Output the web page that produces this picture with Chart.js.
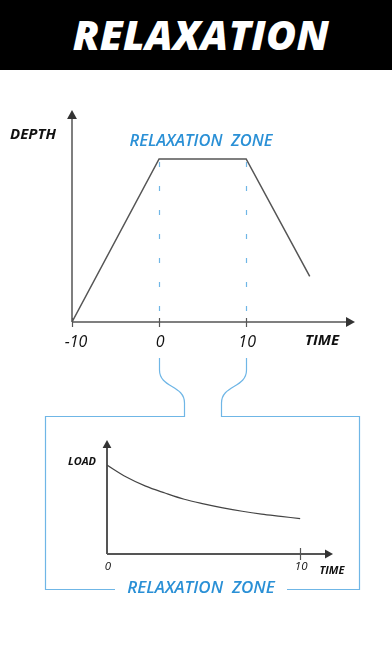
<!DOCTYPE html>
<html>
<head>
  <title>Relaxation</title>
  <meta charset="UTF-8">
  <script src="https://cdn.jsdelivr.net/npm/chart.js"></script>
  <style>
    body {
      margin: 0;
      width: 392px;
      height: 652px;
      background-color: #fff;
      position: relative;
      overflow: hidden;
      font-family: "Open Sans", sans-serif;
    }
    #judul {
      position: absolute;
      left: 0; top: 0;
      width: 392px; height: 70px;
      background-color: #000;
      color: #fff;
      font-weight: 800;
      font-style: italic;
      font-size: 41px;
      line-height: 68px;
      text-align: center;
      text-indent: 10px;
      letter-spacing: 0.3px;
    }
    #grafikAtas { position: absolute; left: 0; top: 80px; }
    #grafikBawah { position: absolute; left: 0; top: 400px; }
  </style>
</head>
<body>

  <div id="judul">RELAXATION</div>
  <canvas id="grafikAtas" width="392" height="340"></canvas>
  <canvas id="grafikBawah" width="392" height="230"></canvas>

  <script>
    // data grafik atas (kedalaman vs waktu)
    const depthTime = [-10, 0, 10, 17.3];
    const depthValues = [0, 10, 10, 2.8];
    const depthTicks = [-10, 0, 10];
    const zoneBounds = [0, 10];

    // data grafik bawah (beban selama zona relaksasi)
    const loadTime = [0, 1, 2, 3, 4, 5, 6, 7, 8, 9, 10];
    const loadValues = [7.8, 6.75, 5.95, 5.35, 4.8, 4.4, 4.05, 3.75, 3.5, 3.3, 3.1];
    const loadTicks = [0, 10];

    const abu = '#555';
    const biru = '#2a90d6';
    const biruMuda = '#6fb6e6';
    const fontLabel = '"Open Sans", sans-serif';

    function panah(ctx, x, y, arah, ukuran) {
      ctx.beginPath();
      if (arah === 'atas') {
        ctx.moveTo(x, y);
        ctx.lineTo(x - ukuran * 0.55, y + ukuran);
        ctx.lineTo(x + ukuran * 0.55, y + ukuran);
      } else {
        ctx.moveTo(x, y);
        ctx.lineTo(x - ukuran, y - ukuran * 0.55);
        ctx.lineTo(x - ukuran, y + ukuran * 0.55);
      }
      ctx.closePath();
      ctx.fill();
    }

    // sumbu, label dan zona untuk grafik atas
    const sumbuAtas = {
      id: 'sumbuAtas',
      beforeDatasetsDraw(chart) {
        const ctx = chart.ctx;
        const a = chart.chartArea;
        const sx = chart.scales.x, sy = chart.scales.y;
        ctx.save();

        // garis putus-putus zona
        ctx.strokeStyle = biruMuda;
        ctx.lineWidth = 1.2;
        ctx.setLineDash([5, 19]);
        zoneBounds.forEach(v => {
          const x = Math.round(sx.getPixelForValue(v)) + 0.5;
          ctx.beginPath();
          ctx.moveTo(x, sy.getPixelForValue(10) + 3);
          ctx.lineTo(x, a.bottom);
          ctx.stroke();
        });
        ctx.setLineDash([]);

        // kurung kurawal ke kotak bawah
        ctx.lineWidth = 1.2;
        const x0 = Math.round(sx.getPixelForValue(zoneBounds[0])) + 0.5;
        const x1 = Math.round(sx.getPixelForValue(zoneBounds[1])) + 0.5;
        [[x0, 25], [x1, -25]].forEach(([x, d]) => {
          ctx.beginPath();
          ctx.moveTo(x, a.bottom + 36);
          ctx.lineTo(x, a.bottom + 48);
          ctx.bezierCurveTo(x, a.bottom + 66, x + d, a.bottom + 63, x + d, a.bottom + 81);
          ctx.lineTo(x + d, a.bottom + 95);
          ctx.stroke();
        });

        // sumbu
        ctx.strokeStyle = abu;
        ctx.fillStyle = '#333';
        ctx.lineWidth = 1.5;
        ctx.beginPath();
        ctx.moveTo(a.left, a.bottom);
        ctx.lineTo(a.left, a.top + 6);
        ctx.moveTo(a.left, a.bottom);
        ctx.lineTo(a.right - 6, a.bottom);
        ctx.stroke();
        panah(ctx, a.left, a.top, 'atas', 9);
        panah(ctx, a.right, a.bottom, 'kanan', 9);

        // tick
        ctx.lineWidth = 1.2;
        depthTicks.forEach(v => {
          const x = Math.round(sx.getPixelForValue(v)) + 0.5;
          ctx.beginPath();
          ctx.moveTo(x, a.bottom - 4);
          ctx.lineTo(x, a.bottom + 5);
          ctx.stroke();
        });

        // label tick
        ctx.fillStyle = '#111';
        ctx.textAlign = 'center';
        ctx.textBaseline = 'middle';
        ctx.font = 'italic 16px ' + fontLabel;
        depthTicks.forEach(v => {
          ctx.fillText(String(v), sx.getPixelForValue(v) + (v < 0 ? 4 : 1), a.bottom + 20);
        });

        ctx.font = 'italic bold 15px ' + fontLabel;
        ctx.fillText('TIME', a.right - 33, a.bottom + 19);
        ctx.fillText('DEPTH', 33, 55);

        ctx.fillStyle = biru;
        ctx.font = 'italic 600 16.5px ' + fontLabel;
        ctx.fillText('RELAXATION  ZONE', (x0 + x1) / 2 - 2, 61);
        ctx.restore();
      }
    };

    // kotak dan sumbu untuk grafik bawah
    const sumbuBawah = {
      id: 'sumbuBawah',
      beforeDatasetsDraw(chart) {
        const ctx = chart.ctx;
        const a = chart.chartArea;
        const sx = chart.scales.x;
        ctx.save();

        // kotak
        ctx.strokeStyle = biruMuda;
        ctx.lineWidth = 1.2;
        const kiri = 45.5, kanan = 359.5, atas = 16.5, bawah = 189.5;
        ctx.beginPath();
        ctx.moveTo(184, atas);
        ctx.lineTo(kiri, atas);
        ctx.lineTo(kiri, bawah);
        ctx.lineTo(115, bawah);
        ctx.moveTo(287, bawah);
        ctx.lineTo(kanan, bawah);
        ctx.lineTo(kanan, atas);
        ctx.lineTo(221, atas);
        ctx.stroke();

        ctx.fillStyle = biru;
        ctx.textAlign = 'center';
        ctx.textBaseline = 'middle';
        ctx.font = 'italic 600 17px ' + fontLabel;
        ctx.fillText('RELAXATION  ZONE', 201, bawah - 1);

        // sumbu
        ctx.strokeStyle = abu;
        ctx.fillStyle = '#333';
        ctx.lineWidth = 2;
        ctx.beginPath();
        ctx.moveTo(a.left, a.bottom);
        ctx.lineTo(a.left, a.top + 6);
        ctx.moveTo(a.left, a.bottom);
        ctx.lineTo(a.right - 6, a.bottom);
        ctx.stroke();
        panah(ctx, a.left, a.top, 'atas', 8);
        panah(ctx, a.right, a.bottom, 'kanan', 8);

        ctx.lineWidth = 1.2;
        const xt = Math.round(sx.getPixelForValue(loadTicks[1])) + 0.5;
        ctx.beginPath();
        ctx.moveTo(xt, a.bottom - 6);
        ctx.lineTo(xt, a.bottom + 6);
        ctx.stroke();

        ctx.fillStyle = '#111';
        ctx.font = 'italic 11.5px ' + fontLabel;
        loadTicks.forEach(v => {
          ctx.fillText(String(v), sx.getPixelForValue(v) + 1, a.bottom + 13);
        });
        ctx.font = 'italic bold 11px ' + fontLabel;
        ctx.fillText('TIME', 332, a.bottom + 17);
        ctx.fillText('LOAD', 82, 62);
        ctx.restore();
      }
    };

    new Chart(document.getElementById('grafikAtas'), {
      type: 'line',
      data: {
        datasets: [{
          data: depthTime.map((t, i) => ({ x: t, y: depthValues[i] })),
          borderColor: abu,
          borderWidth: 1.5,
          pointRadius: 0,
          tension: 0
        }]
      },
      options: {
        responsive: false,
        animation: false,
        layout: { padding: { left: 72, right: 37, top: 30, bottom: 98 } },
        plugins: { legend: { display: false }, tooltip: { enabled: false } },
        scales: {
          x: { type: 'linear', min: -10, max: 22.5, display: false },
          y: { min: 0, max: 13, display: false }
        }
      },
      plugins: [sumbuAtas]
    });

    new Chart(document.getElementById('grafikBawah'), {
      type: 'line',
      data: {
        datasets: [{
          data: loadTime.map((t, i) => ({ x: t, y: loadValues[i] })),
          borderColor: '#444',
          borderWidth: 1.2,
          pointRadius: 0,
          cubicInterpolationMode: 'monotone'
        }]
      },
      options: {
        responsive: false,
        animation: false,
        layout: { padding: { left: 107, right: 59, top: 40, bottom: 76 } },
        plugins: { legend: { display: false }, tooltip: { enabled: false } },
        scales: {
          x: { type: 'linear', min: 0, max: 11.7, display: false },
          y: { min: 0, max: 10, display: false }
        }
      },
      plugins: [sumbuBawah]
    });
  </script>

</body>
</html>
